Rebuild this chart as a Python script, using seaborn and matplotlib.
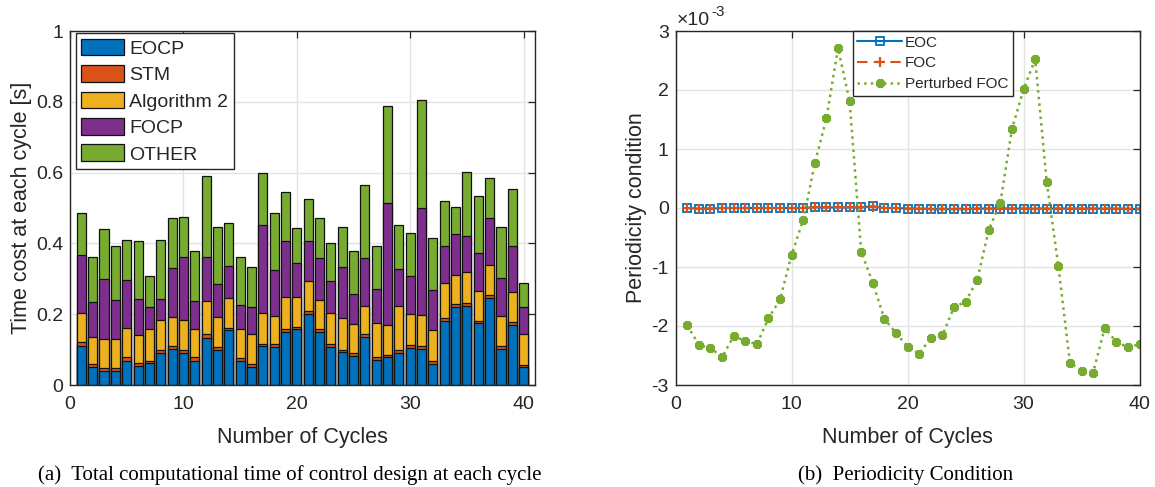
import numpy as np
import matplotlib
matplotlib.use("Agg")
import matplotlib.pyplot as plt
import seaborn as sns
from matplotlib.patches import Patch
from matplotlib.ticker import FuncFormatter

# ---------------- data: (a) stacked computational time ----------------
cycles = list(range(1, 41))
eocp = [0.111, 0.052, 0.039, 0.039, 0.069, 0.053, 0.061, 0.090, 0.101, 0.090,
        0.069, 0.134, 0.099, 0.154, 0.069, 0.050, 0.110, 0.107, 0.149, 0.158,
        0.200, 0.151, 0.108, 0.092, 0.083, 0.136, 0.070, 0.080, 0.089, 0.105,
        0.102, 0.058, 0.180, 0.221, 0.224, 0.174, 0.245, 0.101, 0.169, 0.050]
stm = [0.011, 0.007, 0.008, 0.008, 0.009, 0.008, 0.008, 0.009, 0.009, 0.009,
       0.009, 0.010, 0.007, 0.008, 0.008, 0.008, 0.007, 0.008, 0.009, 0.007,
       0.008, 0.008, 0.007, 0.008, 0.007, 0.007, 0.008, 0.006, 0.010, 0.008,
       0.008, 0.009, 0.009, 0.008, 0.009, 0.008, 0.008, 0.008, 0.008, 0.007]
alg2 = [0.080, 0.078, 0.084, 0.083, 0.082, 0.080, 0.090, 0.084, 0.081, 0.084,
        0.081, 0.092, 0.086, 0.085, 0.081, 0.085, 0.085, 0.079, 0.092, 0.085,
        0.085, 0.082, 0.087, 0.088, 0.081, 0.080, 0.096, 0.083, 0.124, 0.087,
        0.089, 0.088, 0.098, 0.083, 0.085, 0.084, 0.087, 0.087, 0.086, 0.086]
focp = [0.166, 0.098, 0.169, 0.111, 0.136, 0.103, 0.060, 0.061, 0.139, 0.179,
        0.078, 0.126, 0.094, 0.088, 0.067, 0.076, 0.249, 0.130, 0.157, 0.094,
        0.115, 0.117, 0.091, 0.144, 0.086, 0.137, 0.098, 0.346, 0.104, 0.107,
        0.302, 0.112, 0.105, 0.114, 0.102, 0.106, 0.132, 0.107, 0.130, 0.078]
other = [0.117, 0.127, 0.142, 0.152, 0.114, 0.164, 0.090, 0.167, 0.142, 0.113,
         0.142, 0.229, 0.160, 0.123, 0.137, 0.115, 0.148, 0.161, 0.139, 0.100,
         0.117, 0.114, 0.107, 0.115, 0.121, 0.204, 0.122, 0.272, 0.125, 0.123,
         0.304, 0.148, 0.127, 0.077, 0.181, 0.163, 0.113, 0.144, 0.160, 0.067]
labels_a = ["EOCP", "STM", "Algorithm 2", "FOCP", "OTHER"]
colors_a = ["#0072BD", "#D95319", "#EDB120", "#7E2F8E", "#77AC30"]

# ---------------- data: (b) periodicity condition (x 1e-3) ----------------
eoc = [0.00, -0.01, -0.01, 0.00, 0.00, 0.00, 0.00, 0.00, 0.00, 0.00,
       0.00, 0.01, 0.01, 0.01, 0.01, 0.01, 0.03, 0.00, 0.00, -0.01,
       -0.01, -0.02, -0.02, -0.02, -0.02, -0.01, -0.01, -0.01, -0.01, -0.01,
       -0.01, -0.01, -0.01, -0.01, -0.01, -0.01, -0.01, -0.01, -0.02, -0.02]
foc = [0.00, -0.01, -0.01, 0.00, 0.00, 0.00, 0.00, 0.00, 0.00, 0.00,
       0.00, 0.01, 0.01, 0.01, 0.01, 0.01, 0.02, 0.00, 0.00, -0.01,
       -0.01, -0.01, -0.01, -0.01, -0.01, -0.01, -0.01, -0.01, -0.01, -0.01,
       -0.01, -0.01, -0.01, -0.01, -0.01, -0.01, -0.01, -0.01, -0.01, -0.01]
perturbed_foc = [-1.99, -2.32, -2.37, -2.53, -2.17, -2.25, -2.31, -1.87, -1.55, -0.79,
                 -0.20, 0.76, 1.52, 2.71, 1.81, -0.74, -1.27, -1.88, -2.12, -2.35,
                 -2.47, -2.20, -2.16, -1.68, -1.59, -1.22, -0.37, 0.09, 1.34, 2.01,
                 2.52, 0.44, -0.98, -2.62, -2.76, -2.79, -2.03, -2.27, -2.36, -2.31]
scale_b = 1e-3

sns.set_style("white")
plt.rcParams["font.family"] = ["Liberation Sans", "DejaVu Sans"]
plt.rcParams["axes.unicode_minus"] = False

W, H = 1155, 487
fig = plt.figure(figsize=(W / 100, H / 100), dpi=100)
ax1 = fig.add_axes([70 / W, 1 - 385 / H, 465 / W, 354 / H])
ax2 = fig.add_axes([675.7 / W, 1 - 385 / H, 463.8 / W, 354 / H])

axis_col = "#262626"
grid_col = "#e3e3e3"
tick_fs = 14
label_fs = 15.5


def style_axes(ax):
    ax.grid(True, color=grid_col, linewidth=1.0)
    ax.set_axisbelow(True)
    for s in ax.spines.values():
        s.set_color(axis_col)
        s.set_linewidth(1.0)
        s.set_visible(True)
    ax.tick_params(direction="in", top=True, right=True, length=5, width=0.9,
                   color=axis_col, labelcolor=axis_col, labelsize=tick_fs, pad=5)
    ax.tick_params(axis="x", pad=8)


# ---- (a) stacked bars: draw cumulative totals from top layer down ----
segments = np.array([eocp, stm, alg2, focp, other])
cum = np.cumsum(segments, axis=0)
for i in range(4, -1, -1):
    sns.barplot(x=cycles, y=cum[i], native_scale=True, color=colors_a[i],
                saturation=1, width=0.8, edgecolor="#111111", linewidth=0.9,
                errorbar=None, ax=ax1)
ax1.set_xlim(0, 41)
ax1.set_ylim(0, 1)
ax1.set_xticks([0, 10, 20, 30, 40])
ax1.set_yticks([0, 0.2, 0.4, 0.6, 0.8, 1.0])
ax1.yaxis.set_major_formatter(FuncFormatter(lambda v, p: f"{v:g}"))
style_axes(ax1)
ax1.set_xlabel("Number of Cycles", fontsize=label_fs, color=axis_col, labelpad=10)
ax1.set_ylabel("Time cost at each cycle [s]", fontsize=label_fs, color=axis_col, labelpad=3)
handles = [Patch(facecolor=c, edgecolor="#111111", linewidth=0.9) for c in colors_a]
leg1 = ax1.legend(handles, labels_a, loc="upper left", bbox_to_anchor=(0.012, 0.995),
                  borderaxespad=0, fontsize=14, frameon=True, fancybox=False,
                  edgecolor=axis_col, framealpha=1, handlelength=2.2,
                  handleheight=0.95, handletextpad=0.25, labelspacing=0.38,
                  borderpad=0.3)
leg1.get_frame().set_linewidth(1.0)

# ---- (b) periodicity condition ----
sns.lineplot(x=cycles, y=np.array(eoc) * scale_b, ax=ax2, color="#0072BD",
             linestyle="-", linewidth=1.5, marker="s", markersize=5.5,
             markerfacecolor="none", markeredgecolor="#0072BD",
             markeredgewidth=1.3, label="EOC")
sns.lineplot(x=cycles, y=np.array(foc) * scale_b, ax=ax2, color="#D95319",
             linestyle=(0, (5, 3)), linewidth=1.5, marker="+", markersize=7,
             markeredgecolor="#D95319", markeredgewidth=1.6, label="FOC")
sns.lineplot(x=cycles, y=np.array(perturbed_foc) * scale_b, ax=ax2, color="#77AC30",
             linestyle=":", linewidth=1.8, marker=(8, 2, 0), markersize=6.5,
             markeredgewidth=2.4, markeredgecolor="#77AC30", label="Perturbed FOC")
ax2.set_xlim(0, 40)
ax2.set_ylim(-3e-3, 3e-3)
ax2.set_xticks([0, 10, 20, 30, 40])
ax2.set_yticks(np.arange(-3, 4) * scale_b)
ax2.yaxis.set_major_formatter(FuncFormatter(lambda v, p: f"{int(round(v / scale_b))}"))
style_axes(ax2)
ax2.text(0.003, 1 + 6 / 354, "×10", transform=ax2.transAxes, ha="left",
         va="baseline", fontsize=tick_fs, color=axis_col)
ax2.text(0.076, 1 + 15 / 354, "-3", transform=ax2.transAxes, ha="left",
         va="baseline", fontsize=11, color=axis_col)
ax2.set_xlabel("Number of Cycles", fontsize=label_fs, color=axis_col, labelpad=10)
ax2.set_ylabel("Periodicity condition", fontsize=label_fs, color=axis_col, labelpad=3)
leg2 = ax2.legend(loc="upper left", bbox_to_anchor=(0.382, 1.0), borderaxespad=0,
                  fontsize=11, frameon=True, fancybox=False, edgecolor=axis_col,
                  framealpha=1, handlelength=2.9, handletextpad=0.2,
                  labelspacing=0.45, borderpad=0.3)
leg2.get_frame().set_linewidth(1.0)

# ---- captions ----
fig.text(0.251, 1 - 480 / H, "(a)  Total computational time of control design at each cycle",
         ha="center", va="baseline", fontsize=15, family="Liberation Serif", color="black")
fig.text(0.784, 1 - 480 / H, "(b)  Periodicity Condition",
         ha="center", va="baseline", fontsize=15, family="Liberation Serif", color="black")

fig.savefig("out.png", dpi=100)
